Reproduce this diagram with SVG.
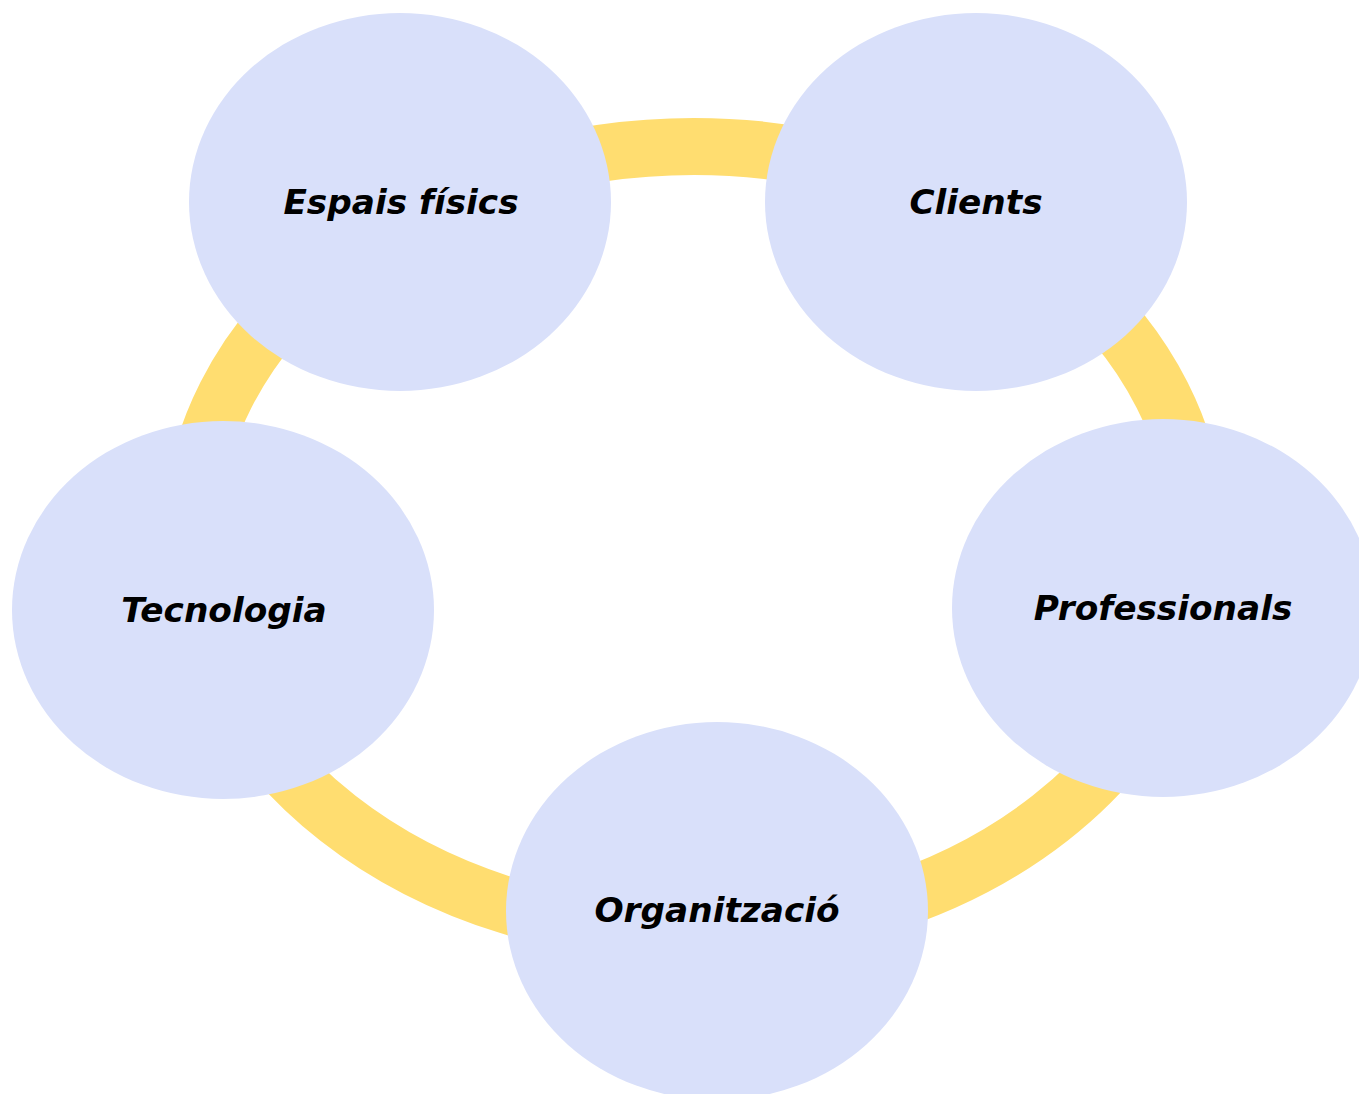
<svg xmlns="http://www.w3.org/2000/svg" width="1359" height="1094" viewBox="0 0 1359 1094">
<style>
.node{fill:#D9E0FA;}
.lbl{font-family:"DejaVu Sans",Verdana,sans-serif;font-weight:bold;font-style:italic;font-size:34.3px;fill:#000;text-anchor:middle;}
.ring{fill:none;stroke:#FFDD70;stroke-width:57;}
</style>
<rect width="1359" height="1094" fill="#fff"/>
<g id="connectors">
<ellipse class="ring" cx="694" cy="540" rx="503.5" ry="393.5"/>
</g>
<g id="espais">
<ellipse class="node" cx="400" cy="202" rx="211" ry="189"/>
<text class="lbl" x="401" y="214">Espais físics</text>
</g>
<g id="clients">
<ellipse class="node" cx="976" cy="202" rx="211" ry="189"/>
<text class="lbl" x="976" y="214">Clients</text>
</g>
<g id="tecnologia">
<ellipse class="node" cx="223" cy="610" rx="211" ry="189"/>
<text class="lbl" x="224" y="622">Tecnologia</text>
</g>
<g id="professionals">
<ellipse class="node" cx="1163" cy="608" rx="211" ry="189"/>
<text class="lbl" x="1163" y="620">Professionals</text>
</g>
<g id="organitzacio">
<ellipse class="node" cx="717" cy="911" rx="211" ry="189"/>
<text class="lbl" x="717" y="922">Organització</text>
</g>
</svg>
